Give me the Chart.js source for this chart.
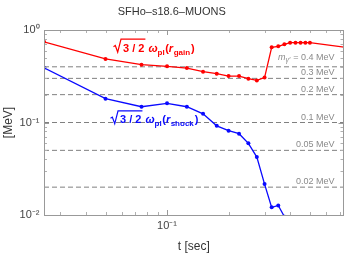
<!DOCTYPE html>
<html>
<head>
<meta charset="utf-8">
<script src="https://cdn.jsdelivr.net/npm/chart.js@4/dist/chart.umd.min.js"></script>
<style>
  html, body { margin: 0; padding: 0; background: #fff; }
  canvas { display: block; }
</style>
</head>
<body>
<canvas id="chart" width="349" height="253"></canvas>
<script>
// time grid (sec)
const tGain = [0.025, 0.05, 0.075, 0.1, 0.125, 0.15, 0.175, 0.2, 0.225, 0.25, 0.275, 0.3,
               0.325, 0.35, 0.375, 0.4, 0.425, 0.45, 0.475, 0.5, 0.75];
const gainValues = [0.745, 0.486, 0.422, 0.405, 0.388, 0.354, 0.337, 0.318, 0.318, 0.298, 0.285, 0.306,
                    0.65, 0.667, 0.70, 0.729, 0.729, 0.729, 0.729, 0.729, 0.65];
const tShock = [0.025, 0.05, 0.075, 0.1, 0.125, 0.15, 0.175, 0.2, 0.225, 0.25, 0.275, 0.3,
                0.325, 0.35, 0.375];
const shockValues = [0.39, 0.181, 0.148, 0.161, 0.148, 0.124, 0.092, 0.0816, 0.0757, 0.0595, 0.0423, 0.0216,
                     0.0121, 0.0127, 0.0096];
// dark photon masses (MeV) for the dashed lines
const massLines = [0.4, 0.3, 0.2, 0.1, 0.05, 0.02];
const massLabels = ['0.4 MeV', '0.3 MeV', '0.2 MeV', '0.1 MeV', '0.05 MeV', '0.02 MeV'];
// axis ticks
const xMajor = [0.1];
const xMajorLabels = ['10\u207B\u00B9'];
const xMinor = [0.03, 0.04, 0.05, 0.06, 0.07, 0.08, 0.09, 0.2, 0.3, 0.4, 0.5, 0.6, 0.7];
const yMajor = [0.01, 0.1, 1];
const yMajorLabels = ['10\u207B\u00B2', '10\u207B\u00B9', '10\u2070'];
const yMinor = [0.02, 0.03, 0.04, 0.05, 0.06, 0.07, 0.08, 0.09, 0.2, 0.3, 0.4, 0.5, 0.6, 0.7, 0.8, 0.9];

const X_MIN = 0.025, X_MAX = 0.73;
const FONT = '"Liberation Sans", Arial, sans-serif';
const RED = 'rgb(255,0,0)';
const BLUE = 'rgb(10,10,255)';

Chart.defaults.font.family = FONT;

function toPoints(xs, ys) {
    return xs.map(function (x, i) { return {x: x, y: ys[i]}; });
}

const datasets = [
    {
        data: toPoints(tGain, gainValues),
        borderColor: RED, backgroundColor: RED,
        borderWidth: 1.3, pointRadius: 2, pointBorderWidth: 0
    },
    {
        data: toPoints(tShock, shockValues),
        borderColor: BLUE, backgroundColor: BLUE,
        borderWidth: 1.3, pointRadius: 2, pointBorderWidth: 0
    }
];
massLines.forEach(function (m) {
    datasets.push({
        data: [{x: X_MIN, y: m}, {x: X_MAX, y: m}],
        borderColor: '#808080', borderWidth: 1, borderDash: [5, 3],
        pointRadius: 0
    });
});

// mathematica-like frame with inner ticks on all four sides
const framePlugin = {
    id: 'frame',
    afterDatasetsDraw: function (chart) {
        const ctx = chart.ctx, a = chart.chartArea;
        const xs = chart.scales.x, ys = chart.scales.y;
        ctx.save();
        ctx.strokeStyle = '#b0b0b0';
        ctx.lineWidth = 1;
        ctx.beginPath();
        function xt(v, len) {
            const p = Math.round(xs.getPixelForValue(v)) + 0.5;
            ctx.moveTo(p, a.bottom); ctx.lineTo(p, a.bottom - len);
            ctx.moveTo(p, a.top); ctx.lineTo(p, a.top + len);
        }
        function yt(v, len) {
            const p = Math.round(ys.getPixelForValue(v)) + 0.5;
            ctx.moveTo(a.left, p); ctx.lineTo(a.left + len, p);
            ctx.moveTo(a.right, p); ctx.lineTo(a.right - len, p);
        }
        xMinor.forEach(function (v) { xt(v, 3); });
        yMinor.forEach(function (v) { yt(v, 3); });
        ctx.stroke();
        ctx.strokeStyle = '#999';
        ctx.beginPath();
        xMajor.forEach(function (v) { xt(v, 5); });
        yMajor.forEach(function (v) { yt(v, 5); });
        ctx.stroke();
        ctx.strokeStyle = '#999';
        ctx.strokeRect(Math.round(a.left) + 0.5, Math.round(a.top) + 0.5,
                       Math.round(a.right - a.left) - 1, Math.round(a.bottom - a.top));
        ctx.restore();
    }
};

// write a run of [text, font, dy, extra gap] pieces starting at x
function runText(ctx, pieces, x, y) {
    pieces.forEach(function (p) {
        ctx.font = p[1];
        ctx.fillText(p[0], x, y + (p[2] || 0));
        x += ctx.measureText(p[0]).width + (p[3] || 0);
    });
    return x;
}
function runWidth(ctx, pieces) {
    let w = 0;
    pieces.forEach(function (p) { ctx.font = p[1]; w += ctx.measureText(p[0]).width + (p[3] || 0); });
    return w;
}

function drawRootLabel(ctx, x, yb, color, sub) {
    ctx.save();
    ctx.fillStyle = color; ctx.strokeStyle = color;
    ctx.textBaseline = 'alphabetic';
    const b11 = 'bold 11px ' + FONT, bi11 = 'italic bold 11px ' + FONT, b8 = 'bold 8px ' + FONT;
    ctx.font = b11;
    const w = ctx.measureText('3 / 2').width;
    ctx.lineWidth = 1.2;
    ctx.beginPath();
    ctx.moveTo(x, yb - 5);
    ctx.lineTo(x + 1.8, yb - 6.2);
    ctx.lineTo(x + 4.2, yb + 0.5);
    ctx.lineTo(x + 7.5, yb - 12.5);
    ctx.lineTo(x + 9.5 + w + 1, yb - 12.5);
    ctx.stroke();
    runText(ctx, [
        ['3 / 2', b11, 0, 4],
        ['\u03C9', bi11, 0],
        ['pl', b8, 3, 0.5],
        ['(', b11, 0],
        ['r', bi11, 0, 0.5],
        [sub, b8, 3, 1],
        [')', b11, 0]
    ], x + 9.5, yb);
    ctx.restore();
}

const labelPlugin = {
    id: 'labels',
    afterDraw: function (chart) {
        const ctx = chart.ctx, xs = chart.scales.x, ys = chart.scales.y;
        // curve labels
        drawRootLabel(ctx, xs.getPixelForValue(0.0547), ys.getPixelForValue(0.583), RED, 'gain');
        drawRootLabel(ctx, xs.getPixelForValue(0.0529), ys.getPixelForValue(0.098), BLUE, 'shock');
        // mass labels above the dashed lines
        ctx.save();
        ctx.fillStyle = '#8a8a8a';
        ctx.textBaseline = 'alphabetic';
        const f9 = '9px ' + FONT;
        const xr = xs.getPixelForValue(0.66);
        massLines.forEach(function (m, i) {
            let pieces = [[massLabels[i], f9, 0]];
            let lift = 3;
            if (i === 0) {
                pieces = [['m', 'italic 9px ' + FONT, 0], ['\u03B3\u2032', 'italic 7px ' + FONT, 2.5, 3],
                          ['= ' + massLabels[i], f9, 0]];
                lift = 7;
            }
            const w = runWidth(ctx, pieces);
            runText(ctx, pieces, xr - w, ys.getPixelForValue(m) - lift);
        });
        ctx.restore();
    }
};

new Chart(document.getElementById('chart'), {
    type: 'line',
    data: {datasets: datasets},
    options: {
        responsive: false,
        animation: false,
        devicePixelRatio: 1,
        layout: {padding: {left: 0, right: 5.5, top: 0, bottom: 0}},
        plugins: {
            legend: {display: false},
            tooltip: {enabled: false},
            title: {
                display: true,
                text: 'SFHo\u2013s18.6\u2013MUONS',
                color: '#333',
                font: {size: 11, weight: 'normal'},
                padding: {top: 5.4, bottom: 11.4}
            }
        },
        scales: {
            x: {
                type: 'logarithmic',
                min: X_MIN, max: X_MAX,
                afterFit: function (s) { s.height = 38; },
                afterBuildTicks: function (s) { s.ticks = xMajor.map(function (v) { return {value: v}; }); },
                grid: {display: false, drawTicks: false},
                border: {display: false},
                ticks: {
                    autoSkip: false, maxRotation: 0, padding: 4,
                    color: '#444', font: {size: 11},
                    callback: function (v) { const i = xMajor.indexOf(v); return i < 0 ? '' : xMajorLabels[i]; }
                },
                title: {display: true, text: 't [sec]', color: '#333', font: {size: 12}, padding: {top: 0, bottom: -1}}
            },
            y: {
                type: 'logarithmic',
                min: 0.01, max: 1,
                afterFit: function (s) { s.width = 44; },
                afterBuildTicks: function (s) { s.ticks = yMajor.map(function (v) { return {value: v}; }); },
                grid: {display: false, drawTicks: false},
                border: {display: false},
                ticks: {
                    autoSkip: false, padding: 4.5,
                    color: '#444', font: {size: 11},
                    callback: function (v) { const i = yMajor.indexOf(v); return i < 0 ? '' : yMajorLabels[i]; }
                },
                title: {display: true, text: '[MeV]', color: '#333', font: {size: 12}, padding: {top: 1, bottom: 0}}
            }
        }
    },
    plugins: [framePlugin, labelPlugin]
});
</script>
</body>
</html>
